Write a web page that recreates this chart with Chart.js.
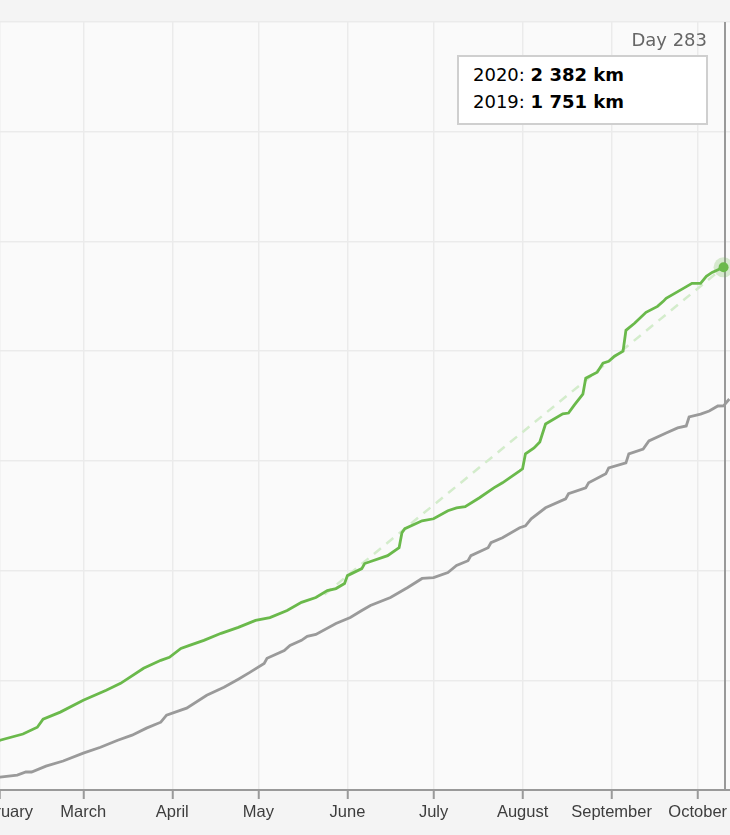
<!DOCTYPE html>
<html>
<head>
<meta charset="utf-8">
<script src="https://cdn.jsdelivr.net/npm/chart.js@4.4.0/dist/chart.umd.min.js"></script>
<style>
  html, body { margin: 0; padding: 0; width: 730px; height: 835px; overflow: hidden; background: #f4f4f4; }
  #wrap { position: absolute; left: -139px; top: 0; width: 1148px; height: 835px; }
  .day { position: absolute; right: 23px; top: 29px; font: 18px "DejaVu Sans", sans-serif; line-height: 22px; color: #666; }
  .tip {
    position: absolute; left: 457px; top: 55px; width: 251px; height: 70px; box-sizing: border-box;
    background: #fff; border: 2px solid #cfcfcf; padding: 4px 0 0 14px;
    font: 18px "DejaVu Sans", sans-serif; line-height: 27px; color: #000;
  }
  .tip b { font-weight: bold; }
</style>
</head>
<body>
<div id="wrap"><canvas id="chart"></canvas></div>
<div class="day">Day 283</div>
<div class="tip">2020: <b>2 382 km</b><br>2019: <b>1 751 km</b></div>
<script>
// Month ticks (day of year, 0 = Jan 1, leap year 2020)
const monthStarts = [0, 31, 60, 91, 121, 152, 182, 213, 244, 274, 305, 335];
const monthNames = ['January', 'February', 'March', 'April', 'May', 'June', 'July',
  'August', 'September', 'October', 'November', 'December'];

// 2020 cumulative distance (km)
const days2020 = [0, 31, 39, 44, 46, 52, 60, 68, 73, 81, 87, 90, 94, 97, 102, 108, 114, 120, 125,
  131, 136, 141, 145, 148, 151, 152, 157, 158, 166, 170, 171, 172, 178, 182, 187, 190, 193, 198,
  203, 206, 212, 213, 214, 217, 219, 221, 227, 229, 231, 234, 235, 239, 241, 243, 245, 248, 249,
  252, 256, 260, 262, 263, 269, 272, 275, 277, 279, 283];
const km2020 = [0, 227, 255, 286, 323, 355, 409, 455, 486, 555, 591, 605, 645, 659, 682, 714, 741,
  773, 786, 818, 855, 877, 909, 918, 941, 977, 1009, 1032, 1068, 1104, 1173, 1191, 1227, 1236,
  1273, 1286, 1291, 1332, 1377, 1400, 1454, 1464, 1532, 1559, 1586, 1668, 1714, 1718, 1754, 1804,
  1877, 1904, 1945, 1954, 1977, 2000, 2095, 2127, 2177, 2204, 2227, 2241, 2286, 2309, 2309, 2341,
  2359, 2382];

// 2019 cumulative distance (km)
const days2019 = [0, 31, 37, 40, 42, 47, 53, 60, 66, 72, 77, 82, 87, 89, 94, 96, 103, 109, 114,
  118, 123, 124, 130, 132, 136, 138, 141, 148, 153, 157, 160, 167, 173, 178, 182, 187, 190, 194,
  195, 201, 202, 206, 212, 214, 216, 221, 228, 229, 235, 236, 242, 243, 249, 250, 255, 257, 263,
  267, 270, 271, 275, 278, 281, 283, 285];
const km2019 = [0, 59, 68, 82, 82, 109, 132, 168, 195, 227, 250, 282, 309, 341, 364, 373, 432, 468,
  505, 536, 577, 600, 636, 659, 682, 700, 709, 759, 786, 818, 841, 877, 923, 964, 968, 991, 1023,
  1045, 1068, 1104, 1127, 1150, 1195, 1204, 1236, 1286, 1327, 1350, 1377, 1400, 1441, 1468, 1491,
  1532, 1554, 1591, 1627, 1650, 1659, 1700, 1713, 1727, 1750, 1751, 1782];

// Projection (dashed)
const projDays = [144, 283];
const projKm = [891, 2382];

const currentDay = 283;
const green = '#6ab94b';
const gray = '#9a9a9a';

const toPoints = (xs, ys) => xs.map((x, i) => ({ x: x, y: ys[i] }));
const lastIdx = days2020.length - 1;

const plotBackground = {
  id: 'plotBackground',
  beforeDraw(chart) {
    const { ctx, chartArea } = chart;
    ctx.save();
    ctx.fillStyle = '#fafafa';
    ctx.fillRect(chartArea.left, chartArea.top, chartArea.right - chartArea.left, chartArea.bottom - chartArea.top);
    ctx.restore();
  }
};

const crosshair = {
  id: 'crosshair',
  beforeDatasetsDraw(chart) {
    const { ctx, chartArea, scales } = chart;
    const x = Math.round(scales.x.getPixelForValue(currentDay)) + 1;
    ctx.save();
    ctx.strokeStyle = '#999';
    ctx.lineWidth = 2;
    ctx.beginPath();
    ctx.moveTo(x, chartArea.top);
    ctx.lineTo(x, chartArea.bottom);
    ctx.stroke();
    ctx.restore();
  }
};

new Chart(document.getElementById('chart'), {
  type: 'line',
  data: {
    datasets: [
      {
        label: '2020',
        data: toPoints(days2020, km2020),
        borderColor: green,
        backgroundColor: green,
        borderWidth: 2.8,
        pointRadius: (c) => (c.dataIndex === lastIdx ? 5 : 0),
        pointBorderWidth: 0,
        tension: 0,
        order: 1
      },
      {
        label: 'halo',
        data: [{ x: days2020[lastIdx], y: km2020[lastIdx] }],
        showLine: false,
        pointRadius: 10,
        pointBorderWidth: 0,
        pointBackgroundColor: 'rgba(106,185,75,0.25)',
        order: 2
      },
      {
        label: 'projection',
        data: toPoints(projDays, projKm),
        borderColor: '#d3eccb',
        borderWidth: 2.5,
        borderDash: [9, 7],
        pointRadius: 0,
        order: 3
      },
      {
        label: '2019',
        data: toPoints(days2019, km2019),
        borderColor: gray,
        borderWidth: 2.8,
        pointRadius: 0,
        tension: 0,
        order: 4
      }
    ]
  },
  options: {
    responsive: true,
    maintainAspectRatio: false,
    animation: false,
    layout: { padding: { left: 50, right: 50, top: 22, bottom: 0 } },
    plugins: { legend: { display: false }, tooltip: { enabled: false } },
    scales: {
      x: {
        type: 'linear',
        min: 0,
        max: 365,
        afterBuildTicks: (scale) => { scale.ticks = monthStarts.map((v) => ({ value: v })); },
        afterFit: (scale) => { scale.height = 45; },
        ticks: {
          autoSkip: false,
          maxRotation: 0,
          padding: 4,
          color: '#3d3d3d',
          font: { family: '"Liberation Sans", Arial, sans-serif', size: 16.5 },
          callback: (v) => monthNames[monthStarts.indexOf(v)]
        },
        grid: { color: '#ebebeb', lineWidth: 1.5, tickColor: '#999', tickWidth: 2, tickLength: 9 },
        border: { display: true, color: '#999', width: 2 }
      },
      y: {
        min: 0,
        max: 3500,
        afterFit: (scale) => { scale.width = 0; },
        ticks: { display: false, stepSize: 500 },
        grid: { color: '#ebebeb', lineWidth: 1.5, drawTicks: false },
        border: { display: false }
      }
    }
  },
  plugins: [plotBackground, crosshair]
});
</script>
</body>
</html>
